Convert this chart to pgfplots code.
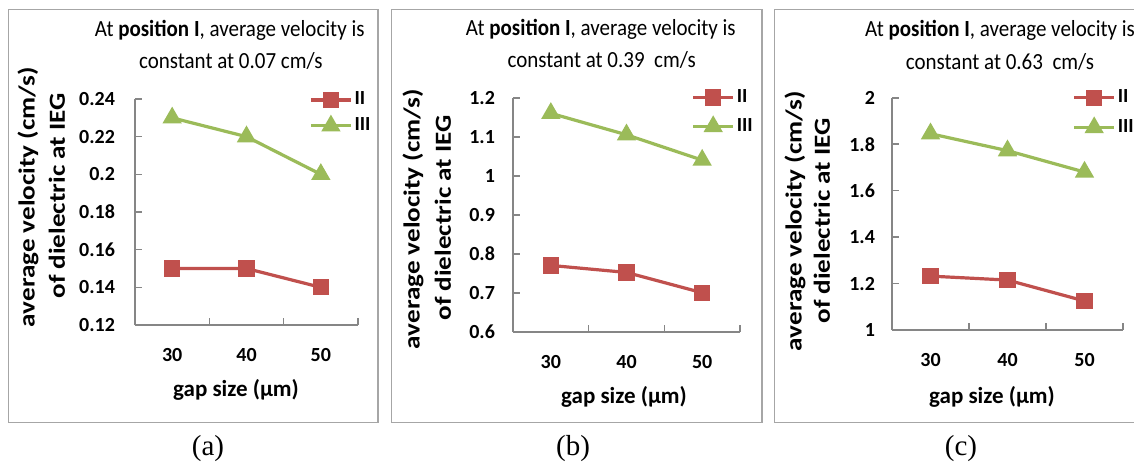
\documentclass[border=0pt]{standalone}
\usepackage{pgfplots}
\pgfplotsset{compat=1.18}
\usepackage{fontspec}
\setmainfont{Carlito}
\newfontfamily\capfont{Liberation Serif}
\usepackage{graphicx}
\definecolor{cred}{HTML}{C0504D}
\definecolor{cgreen}{HTML}{9BBB59}
\definecolor{boxgray}{HTML}{A6A6A6}
\definecolor{axgray}{HTML}{868686}
\pgfplotsset{
  panel/.style={
    scale only axis,
    xmin=0.5, xmax=3.5,
    xtick={1,2,3}, xticklabels={30,40,50},
    minor xtick={1.5,2.5,3.5},
    major x tick style={draw=none},
    tick align=inside,
    major tick length=3.5pt, minor tick length=3.5pt,
    axis x line*=bottom, axis y line*=left,
    axis line style={draw=axgray, line width=0.8pt, -},
    every tick/.style={draw=axgray, line width=0.8pt},
    tick label style={font=\bfseries\fontsize{10}{12}\selectfont},
    /pgf/number format/assume math mode=true,
    xticklabel style={yshift=-8.4pt},
    clip=false,
    legend image code/.code={\draw[##1, mark repeat=2, mark phase=2] plot coordinates {(0pt,0pt) (10pt,0pt) (20pt,0pt)};},
    legend style={draw=none, fill=none, inner sep=0pt, row sep=3pt,
      font=\bfseries\fontsize{10}{12}\selectfont, cells={anchor=west},
      nodes={inner sep=1pt}},
  },
  sII/.style={color=cred, line width=1.6pt, mark=square*, mark size=3.25pt, mark options={solid, fill=cred, draw=cred}},
  sIII/.style={color=cgreen, line width=1.6pt, mark=triangle*, mark size=4pt, mark options={solid, fill=cgreen, draw=cgreen}},
}
\begin{document}
\begin{tikzpicture}
\clip (0pt,0pt) rectangle (567pt,-231.5pt);
\begin{scope}[x=0.5pt, y=-0.5pt]
  \fill[white] (0,0) rectangle (1134,463);
  \draw[boxgray, line width=0.8pt] (8.5,9.5) rectangle (378,422.5);
  \draw[boxgray, line width=0.8pt] (391.5,9.5) rectangle (762,422.5);
  \draw[boxgray, line width=0.8pt] (774.5,9.5) rectangle (1150,422.5);
  % titles
  \node[font=\fontsize{10.5}{12}\selectfont] at (229.7,30) {\scalebox{1}[1.1]{At \textbf{position I}, average velocity is}};
  \node[font=\fontsize{10.5}{12}\selectfont] at (230.8,61) {\scalebox{1}[1.1]{constant at 0.07 cm/s}};
  \node[font=\fontsize{10.5}{12}\selectfont] at (600.8,29) {\scalebox{1}[1.1]{At \textbf{position I}, average velocity is}};
  \node[font=\fontsize{10.5}{12}\selectfont] at (601.7,60) {\scalebox{1}[1.1]{constant at 0.39\ \ cm/s}};
  \node[font=\fontsize{10.5}{12}\selectfont] at (1000,30) {\scalebox{1}[1.1]{At \textbf{position I}, average velocity is}};
  \node[font=\fontsize{10.5}{12}\selectfont] at (1000,62) {\scalebox{1}[1.1]{constant at 0.63\ \ cm/s}};
  % y labels
  \node[rotate=90, font=\bfseries\fontsize{11.5}{13}\selectfont] at (28,197) {\scalebox{1.18}[1]{average velocity (cm/s)}};
  \node[rotate=90, font=\bfseries\fontsize{11.5}{13}\selectfont] at (57,196) {\scalebox{1.18}[1]{of dielectric at IEG}};
  \node[rotate=90, font=\bfseries\fontsize{11.5}{13}\selectfont] at (413,219) {\scalebox{1.18}[1]{average velocity (cm/s)}};
  \node[rotate=90, font=\bfseries\fontsize{11.5}{13}\selectfont] at (443,218) {\scalebox{1.18}[1]{of dielectric at IEG}};
  \node[rotate=90, font=\bfseries\fontsize{11.5}{13}\selectfont] at (795,221) {\scalebox{1.18}[1]{average velocity (cm/s)}};
  \node[rotate=90, font=\bfseries\fontsize{11.5}{13}\selectfont] at (822,221) {\scalebox{1.18}[1]{of dielectric at IEG}};
  % x labels
  \node[font=\bfseries\fontsize{11.5}{13}\selectfont] at (236,390) {gap size (µm)};
  \node[font=\bfseries\fontsize{11.5}{13}\selectfont] at (624,397) {gap size (µm)};
  \node[font=\bfseries\fontsize{11.5}{13}\selectfont] at (992,397) {gap size (µm)};
  % captions
  \node[font=\capfont\fontsize{14.5}{16}\selectfont] at (208,449) {(a)};
  \node[font=\capfont\fontsize{14.5}{16}\selectfont] at (573,449) {(b)};
  \node[font=\capfont\fontsize{14.5}{16}\selectfont] at (961,449) {(c)};
\end{scope}

% panel (a)
\begin{axis}[panel, at={(67.5pt,-162.5pt)}, anchor=south west,
  width=111.5pt, height=113pt,
  ymin=0.12, ymax=0.24, ytick={0.12,0.14,...,0.25},
  yticklabel style={xshift=-6.5pt, /pgf/number format/.cd, fixed, precision=2},
  legend style={at={(axis description cs:0.78,1.042)}, anchor=north west}]
\addplot[sII] coordinates {(1,0.15) (2,0.15) (3,0.14)};
\addlegendentry{II}
\addplot[sIII] coordinates {(1,0.23) (2,0.22) (3,0.20)};
\addlegendentry{III}
\end{axis}

% panel (b)
\begin{axis}[panel, at={(256.5pt,-165.85pt)}, anchor=south west,
  width=113.5pt, height=117pt,
  ymin=0.6, ymax=1.2, ytick={0.6,0.7,0.8,0.9,1.0,1.1,1.2},
  yticklabel style={xshift=-5.5pt, /pgf/number format/.cd, fixed, precision=1},
  legend style={at={(axis description cs:0.785,1.045)}, anchor=north west, row sep=4.5pt}]
\addplot[sII] coordinates {(1,0.77) (2,0.752) (3,0.70)};
\addlegendentry{II}
\addplot[sIII] coordinates {(1,1.16) (2,1.105) (3,1.04)};
\addlegendentry{III}
\end{axis}

% panel (c)
\begin{axis}[panel, at={(446pt,-165pt)}, anchor=south west,
  width=115.5pt, height=116.15pt,
  ymin=1, ymax=2, ytick={1,1.2,1.4,1.6,1.8,2},
  yticklabel style={xshift=-5pt, /pgf/number format/.cd, fixed, precision=1},
  legend style={at={(axis description cs:0.78,1.045)}, anchor=north west, row sep=5pt}]
\addplot[sII] coordinates {(1,1.232) (2,1.215) (3,1.125)};
\addlegendentry{II}
\addplot[sIII] coordinates {(1,1.845) (2,1.772) (3,1.68)};
\addlegendentry{III}
\end{axis}
\end{tikzpicture}
\end{document}
